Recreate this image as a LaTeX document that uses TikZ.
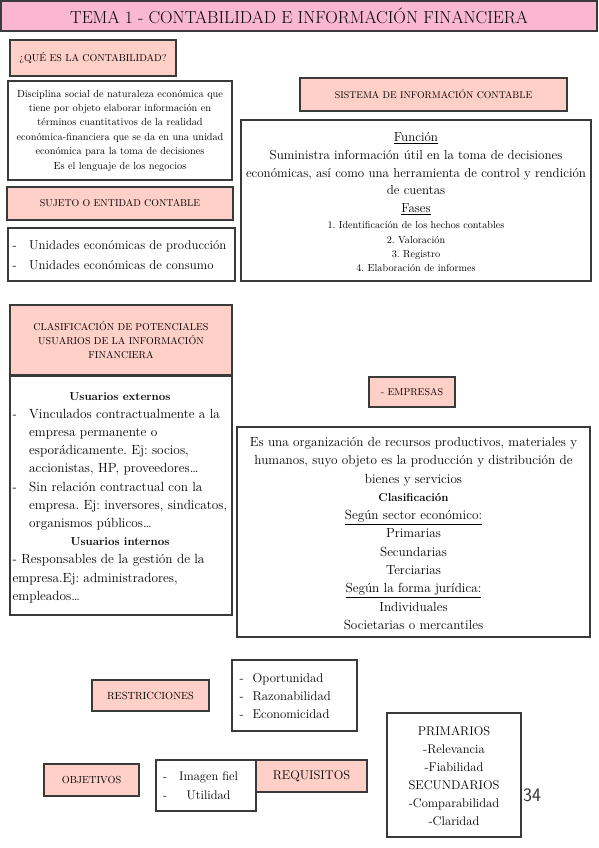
\documentclass[tikz,border=0pt]{standalone}
\definecolor{titlepink}{HTML}{F9B7D0}
\definecolor{salmon}{HTML}{FFD0C8}
\definecolor{bordercol}{HTML}{3A3A3A}
\newcommand\fsz[2]{\fontsize{#1}{#2}\selectfont}
\newcommand\hdb[1]{{\fsz{11.5}{14}\bfseries #1}}
\frenchspacing
\tikzset{
  bx/.style={draw=bordercol, line width=1.3pt, inner sep=0pt, anchor=center},
  hd/.style={bx, fill=salmon},
  tx/.style={inner sep=0pt, align=center, text=black},
}
\begin{document}
\begin{tikzpicture}[x=1pt,y=-1pt]
\useasboundingbox (0,0) rectangle (599,848);
% title
\node[bx, fill=titlepink, minimum width=596pt, minimum height=30pt, font=\fsz{17.4}{20}] (title) at (299,16) {TEMA 1 - CONTABILIDAD E INFORMACIÓN FINANCIERA};
% que es
\node[hd, minimum width=166pt, minimum height=36pt, font=\fsz{10}{12}] (que) at (93,58) {¿QUÉ ES LA CONTABILIDAD?};
\node[bx, minimum width=224pt, minimum height=99pt] (def) at (120,130.5) {};
\node[tx, font=\fsz{10.3}{14.4}] (deftxt) at (def.center) {Disciplina social de naturaleza económica que\\tiene por objeto elaborar información en\\términos cuantitativos de la realidad\\económica-financiera que se da en una unidad\\económica para la toma de decisiones\\Es el lenguaje de los negocios};
% sujeto
\node[hd, minimum width=226pt, minimum height=33pt, font=\fsz{9.9}{12}] (sujeto) at (120,203.5) {SUJETO O ENTIDAD CONTABLE};
\node[bx, minimum width=227pt, minimum height=53pt] (unid) at (121.5,254.5) {};
\node[inner sep=0pt, anchor=west, font=\fsz{12.8}{20}] (unidtxt) at (12.5,255) {\begin{tabular}{@{}p{16.5pt}@{}l@{}}-&Unidades económicas de producción\\-&Unidades económicas de consumo\end{tabular}};
% sistema
\node[hd, minimum width=267pt, minimum height=33pt, font=\fsz{9.8}{12}] (sist) at (433.5,94.5) {SISTEMA DE INFORMACIÓN CONTABLE};
\node[bx, minimum width=350pt, minimum height=161pt] (func) at (416,200.5) {};
\node[tx, font=\fsz{13}{17.8}] (functxt) at (416,173.6) {\underline{Función}\\Suministra información útil en la toma de decisiones\\económicas, así como una herramienta de control y rendición\\de cuentas\\\underline{Fases}};
\node[tx, font=\fsz{10.2}{14.3}] (fases) at (416,246.8) {1. Identificación de los hechos contables\\2. Valoración\\3. Registro\\4. Elaboración de informes};
% clasificacion
\node[hd, minimum width=222pt, minimum height=70pt, align=center, font=\fsz{10}{14}] (clasif) at (121,340) {CLASIFICACIÓN DE POTENCIALES\\USUARIOS DE LA INFORMACIÓN\\FINANCIERA};
\node[bx, minimum width=222pt, minimum height=239pt] (usu) at (121,495.5) {};
\node[inner sep=0pt, anchor=west, font=\fsz{13.3}{18.2}] (usutxt) at (12.5,496.5) {\begin{tabular}{@{}p{16.5pt}@{}l@{}}
\multicolumn{2}{@{}c@{}}{\hdb{Usuarios externos}}\\
-&Vinculados contractualmente a la\\
&empresa permanente o\\
&esporádicamente. Ej: socios,\\
&accionistas, HP, proveedores\dots\\
-&Sin relación contractual con la\\
&empresa. Ej: inversores, sindicatos,\\
&organismos públicos\dots\\
\multicolumn{2}{@{}c@{}}{\hdb{Usuarios internos}}\\
\multicolumn{2}{@{}l@{}}{- Responsables de la gestión de la}\\
\multicolumn{2}{@{}l@{}}{empresa.Ej: administradores,}\\
\multicolumn{2}{@{}l@{}}{empleados\dots}
\end{tabular}};
% empresas
\node[hd, minimum width=86pt, minimum height=30pt, font=\fsz{10}{12}] (emp) at (412,392) {- EMPRESAS};
\node[bx, minimum width=353pt, minimum height=210pt] (empbox) at (413.5,532) {};
\node[tx, font=\fsz{13.2}{18.3}] (emptxt) at (413.5,533.5) {Es una organización de recursos productivos, materiales y\\humanos, suyo objeto es la producción y distribución de\\bienes y servicios\\\hdb{Clasificación}\\\underline{Según sector económico:}\\Primarias\\Secundarias\\Terciarias\\\underline{Según la forma jurídica:}\\Individuales\\Societarias o mercantiles};
% restricciones
\node[hd, minimum width=117pt, minimum height=31pt, font=\fsz{10.4}{12}] (restr) at (150.5,695.5) {RESTRICCIONES};
\node[bx, minimum width=125pt, minimum height=71pt] (restrbox) at (294.5,695.5) {};
\node[inner sep=0pt, anchor=west, font=\fsz{12.8}{18}] (restrtxt) at (239.5,697) {\begin{tabular}{@{}p{13pt}@{}l@{}}-&Oportunidad\\-&Razonabilidad\\-&Economicidad\end{tabular}};
% objetivos
\node[hd, minimum width=95pt, minimum height=32pt, font=\fsz{10.2}{12}] (obj) at (91.5,780) {OBJETIVOS};
\node[bx, minimum width=100pt, minimum height=51pt] (objbox) at (206,785.5) {};
\node[inner sep=0pt, anchor=west, font=\fsz{12.5}{19}] (objtxt) at (163,786) {\begin{tabular}{@{}p{16pt}@{}c@{}}-&Imagen fiel\\-&Utilidad\end{tabular}};
% requisitos
\node[hd, minimum width=111pt, minimum height=32pt, font=\fsz{12.6}{14}] (req) at (311.5,776) {REQUISITOS};
\node[bx, minimum width=134pt, minimum height=124pt] (reqbox) at (454,775) {};
\node[tx, font=\fsz{12.6}{18}] (reqtxt) at (454,776) {PRIMARIOS\\-Relevancia\\-Fiabilidad\\SECUNDARIOS\\-Comparabilidad\\-Claridad};
% page number
\node[inner sep=0pt, font=\sffamily\fsz{19}{22}, text=black!80] (pnum) at (532,795) {34};
\end{tikzpicture}
\end{document}
